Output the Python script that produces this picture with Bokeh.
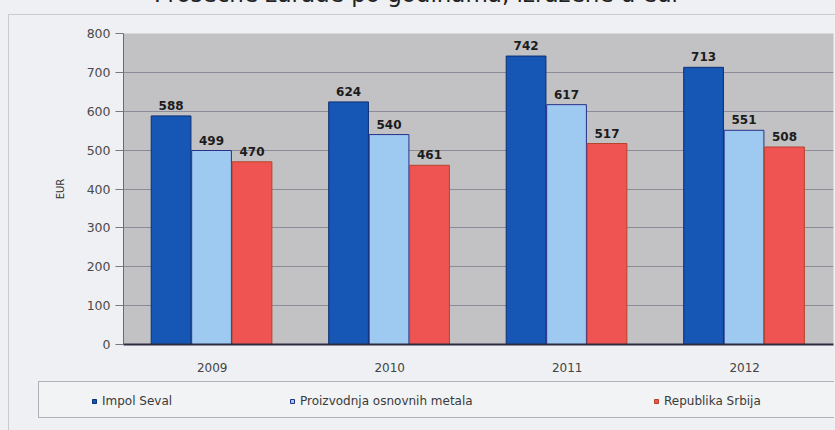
from bokeh.plotting import figure
from bokeh.models import ColumnDataSource, FactorRange, Legend, LegendItem, Div
from bokeh.layouts import column, row
from bokeh.transform import dodge
from bokeh.core.properties import value
from bokeh.embed import file_html
from bokeh.resources import INLINE

years = ["2009", "2010", "2011", "2012"]
impol_seval = [588, 624, 742, 713]
osnovni_metali = [499, 540, 617, 551]
republika_srbija = [470, 461, 517, 508]
y_ticks = [0, 100, 200, 300, 400, 500, 600, 700, 800]

series_names = ["Impol Seval", "Proizvodnja osnovnih metala", "Republika Srbija"]
series_keys = ["impol", "metali", "srbija"]
fill_colors = ["#1656b4", "#9ec9f0", "#ef5452"]
line_colors = ["#0d2f73", "#26318a", "#b5432a"]
offsets = [-0.232, -0.004, 0.224]

FONT = "DejaVu Sans"
PAGE_BG = "#eef0f3"

source = ColumnDataSource(dict(
    years=years,
    impol=impol_seval,
    metali=osnovni_metali,
    srbija=republika_srbija,
    impol_lbl=[str(v) for v in impol_seval],
    metali_lbl=[str(v) for v in osnovni_metali],
    srbija_lbl=[str(v) for v in republika_srbija],
))

# ---- main bar chart ----
p = figure(
    width=826, height=364,
    x_range=FactorRange(*years, range_padding=0),
    y_range=(0, 800),
    output_backend="svg", toolbar_location=None, title=None,
    min_border_left=114, min_border_right=2,
    min_border_top=18, min_border_bottom=35,
)
p.border_fill_color = PAGE_BG
p.background_fill_color = "#c2c2c4"
p.outline_line_color = None

for key, fc, lc, off in zip(series_keys, fill_colors, line_colors, offsets):
    p.vbar(x=dodge("years", off, range=p.x_range), top=key, width=0.224,
           source=source, fill_color=fc, line_color=lc, line_width=1)
    p.text(x=dodge("years", off, range=p.x_range), y=key, text=key + "_lbl",
           source=source, text_align="center", text_baseline="bottom",
           y_offset=-6, text_font=value(FONT), text_font_style="bold",
           text_font_size="12px", text_color="#1c1c1c")

p.yaxis.ticker = y_ticks
p.yaxis.axis_label = "EUR"
p.yaxis.axis_label_text_font = FONT
p.yaxis.axis_label_text_font_size = "10px"
p.yaxis.axis_label_text_font_style = "normal"
p.yaxis.axis_label_text_color = "#333333"
p.yaxis.axis_label_standoff = 18
p.yaxis.major_label_text_font = FONT
p.yaxis.major_label_text_font_size = "12.5px"
p.yaxis.major_label_text_color = "#4a4a4a"
p.yaxis.major_tick_out = 8
p.yaxis.major_tick_in = 0
p.yaxis.minor_tick_line_color = None
p.yaxis.major_tick_line_color = "#777780"
p.yaxis.axis_line_color = "#6a6a72"

p.xaxis.major_label_text_font = FONT
p.xaxis.major_label_text_font_size = "12px"
p.xaxis.major_label_text_color = "#444444"
p.xaxis.major_tick_line_color = None
p.xaxis.axis_line_color = "#2a2a40"
p.xaxis.axis_line_width = 2
p.xaxis.major_label_standoff = 12

p.xgrid.grid_line_color = None
p.ygrid.grid_line_color = "#8c8c98"
p.ygrid.grid_line_width = 1

# ---- legend strip ----
lg_fig = figure(
    width=796, height=37, x_range=(0, 1), y_range=(0, 1),
    output_backend="svg", toolbar_location=None, title=None,
    x_axis_location=None, y_axis_location=None,
    min_border_left=0, min_border_right=0,
    min_border_top=0, min_border_bottom=0,
    styles={"border-top": "1px solid #aeb3b8",
            "border-left": "1px solid #aeb3b8",
            "border-bottom": "1px solid #aeb3b8"},
)
lg_fig.border_fill_color = "#f1f3f5"
lg_fig.background_fill_color = "#f1f3f5"
lg_fig.outline_line_color = None
lg_fig.xgrid.visible = False
lg_fig.ygrid.visible = False

# swatch renderers sit outside the visible range; only their legend entries show
swatch_src = ColumnDataSource(dict(x=[-5], y=[-5]))
legend_x = [50, 248, 612]
for name, fc, lc, lx in zip(series_names, fill_colors, line_colors, legend_x):
    swatch = lg_fig.scatter(x="x", y="y", source=swatch_src, marker="square",
                            size=9, fill_color=fc, line_color=lc)
    lg = Legend(items=[LegendItem(label=name, renderers=[swatch])],
                location=(lx, 11), orientation="horizontal",
                border_line_color=None, background_fill_alpha=0,
                padding=0, margin=0, spacing=0,
                glyph_width=10, glyph_height=10, label_standoff=3,
                label_text_font=FONT, label_text_font_size="12px",
                label_text_color="#3a3a3a")
    lg_fig.add_layout(lg, "center")

legend_row = row(lg_fig, margin=(2, 0, 20, 29))

# ---- heading ----
heading = Div(
    text="Prosečne zarade po godinama, izražene u eur",
    width=835, height=33, margin=(-19, 0, 0, 0),
    styles={"text-align": "center", "font-family": FONT,
            "font-size": "23px", "line-height": "27px", "color": "#222222"},
)

panel = column(p, legend_row, spacing=0, margin=(0, 0, 0, 8),
               styles={"border-top": "1px solid #c6cbd0",
                       "border-left": "1px solid #c6cbd0"})

page = column(heading, panel, spacing=0, width=835, height=430,
              styles={"background-color": PAGE_BG})

open("out.html", "w").write(file_html(page, INLINE))
